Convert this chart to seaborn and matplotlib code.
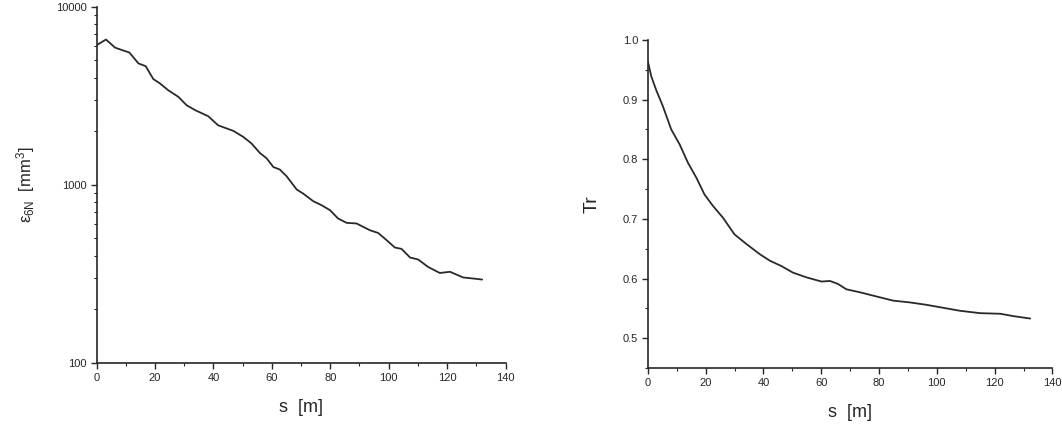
import numpy as np
import pandas as pd
import matplotlib
matplotlib.use("Agg")
import matplotlib.pyplot as plt
import seaborn as sns
from matplotlib.ticker import MultipleLocator, LogLocator, NullFormatter, FixedLocator

# emittance along the channel (left panel)
s_eps = [0, 3.2, 6.3, 8.6, 11.2, 14.3, 16.8, 19.4, 21.7, 24.5, 28, 30.8, 33.7, 38.2,
         41.6, 46.8, 50.2, 53, 55.9, 58.2, 60.5, 62.7, 65, 68.5, 70.7, 74.2, 77, 79.9,
         82.7, 85.6, 89, 93.6, 96.4, 99.3, 102.1, 104.4, 107.3, 110.1, 113.5, 117.5,
         121, 125.5, 128.9, 132]
eps6n = [6090, 6550, 5900, 5720, 5540, 4810, 4640, 3930, 3710, 3400, 3120, 2800, 2630, 2430,
         2160, 2010, 1860, 1710, 1510, 1410, 1260, 1220, 1120, 942, 894, 809, 769, 721,
         647, 612, 607, 556, 537, 489, 445, 437, 391, 381, 346, 320,
         325, 302, 298, 294]

# transmission (right panel)
s_tr = [0, 1.2, 2.9, 5.2, 8.1, 11, 13.9, 16.8, 19.6, 22.5, 26, 30, 34.1, 38.7, 42.2,
        46.2, 50.2, 54.9, 60.1, 63, 65.8, 68.7, 73.4, 79.1, 84.9, 90.7, 96.4, 102.2,
        108, 115, 122, 126.5, 132.3]
tr = [0.964, 0.939, 0.916, 0.889, 0.850, 0.825, 0.794, 0.769, 0.741, 0.722, 0.702, 0.674,
      0.658, 0.641, 0.630, 0.621, 0.610, 0.602, 0.595, 0.596, 0.591, 0.582, 0.577, 0.570,
      0.563, 0.560, 0.556, 0.551, 0.546, 0.542, 0.541, 0.537, 0.533]

df_eps = pd.DataFrame({"s": s_eps, "eps": eps6n})
df_tr = pd.DataFrame({"s": s_tr, "tr": tr})

sns.set_style("ticks")
plt.rcParams['font.family'] = ['Liberation Sans', 'DejaVu Sans']
plt.rcParams['mathtext.fontset'] = 'custom'
plt.rcParams['mathtext.rm'] = 'Liberation Sans'
plt.rcParams['mathtext.it'] = 'Liberation Sans'
plt.rcParams['xtick.direction'] = 'out'
plt.rcParams['ytick.direction'] = 'out'

fig = plt.figure(figsize=(10.62, 4.25), dpi=100)
ax1 = fig.add_axes([0.091, 0.146, 0.385, 0.838])
ax2 = fig.add_axes([0.610, 0.134, 0.381, 0.772])

line_col = "#2a2a2a"

### left: emittance
sns.lineplot(data=df_eps, x="s", y="eps", ax=ax1, color=line_col, linewidth=1.3)
ax1.set_yscale("log")
ax1.set_xlim(0, 140)
ax1.set_ylim(100, 10000)
ax1.xaxis.set_major_locator(MultipleLocator(20))
ax1.xaxis.set_minor_locator(MultipleLocator(10))
ax1.yaxis.set_major_locator(FixedLocator([100, 1000, 10000]))
ax1.yaxis.set_minor_locator(LogLocator(base=10, subs=np.arange(2, 10)))
ax1.yaxis.set_minor_formatter(NullFormatter())
ax1.set_yticklabels(["100", "1000", "10000"])
ax1.set_xlabel("s  [m]", fontsize=13, labelpad=12)
ax1.set_ylabel(r"$\varepsilon_{6N}$  [mm$^3$]", fontsize=12, labelpad=14)

### right: transmission
sns.lineplot(data=df_tr, x="s", y="tr", ax=ax2, color=line_col, linewidth=1.3)
ax2.set_xlim(0, 140)
ax2.set_ylim(0.45, 1.0)
ax2.xaxis.set_major_locator(MultipleLocator(20))
ax2.xaxis.set_minor_locator(MultipleLocator(10))
ax2.yaxis.set_major_locator(FixedLocator([0.5, 0.6, 0.7, 0.8, 0.9, 1.0]))
ax2.yaxis.set_minor_locator(MultipleLocator(0.05))
ax2.set_yticklabels(["0.5", "0.6", "0.7", "0.8", "0.9", "1.0"])
ax2.set_xlabel("s  [m]", fontsize=13, labelpad=12)
ax2.set_ylabel("Tr", fontsize=14, labelpad=16)

for ax in (ax1, ax2):
    sns.despine(ax=ax)
    ax.tick_params(which="major", length=4, width=1, labelsize=8, pad=3)
    ax.tick_params(which="minor", length=2.5, width=0.8)
    for sp in ax.spines.values():
        sp.set_linewidth(1.2)

fig.savefig("out.png", dpi=100)
